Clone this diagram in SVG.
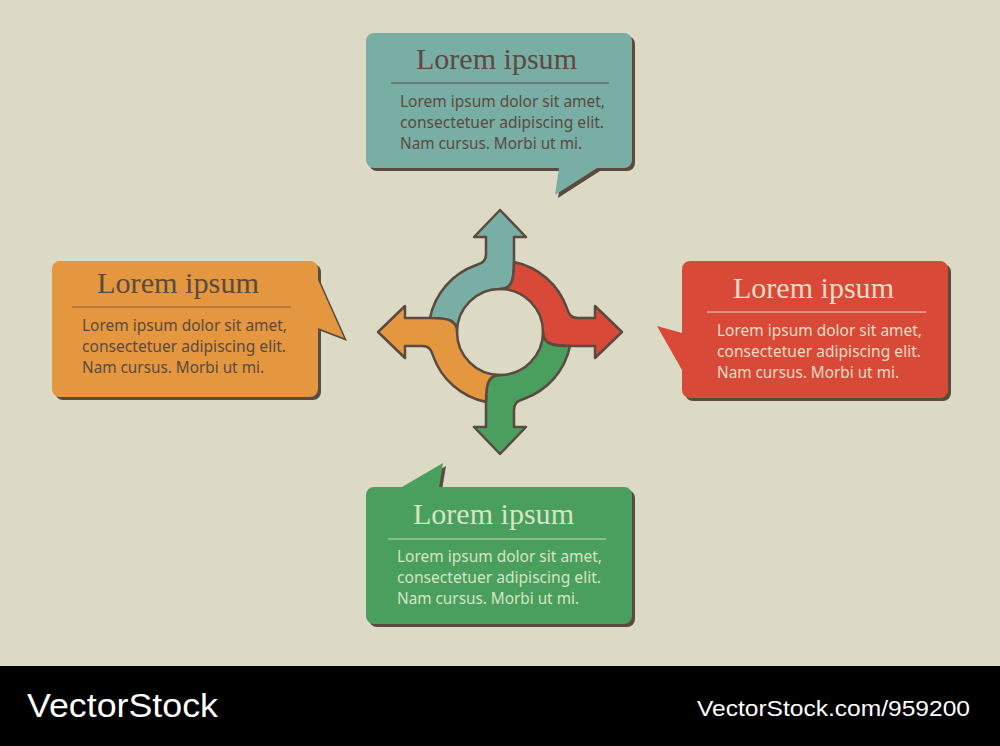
<svg xmlns="http://www.w3.org/2000/svg" xmlns:xlink="http://www.w3.org/1999/xlink" width="1000" height="746" viewBox="0 0 1000 746">
<style>
.shadow{fill:#5b4a40}
.title{font-family:"Liberation Serif","DejaVu Serif",serif;font-size:29px}
.body{font-family:"Noto Sans","Open Sans","Liberation Sans",sans-serif;font-size:16px}
.dark{fill:#5b4a40}
.light{fill:#ecdcc3}
.lightg{fill:#d6e5c2}
.piece{stroke:#5b4a40;stroke-width:2.5;stroke-linejoin:round}
.foot{font-family:"Liberation Sans",Arial,sans-serif;fill:#ffffff}
</style>
<defs>
<path id="arm" d="M0,-122 L26,-95 L14,-95 L14,-70 C14,-52 12,-43 0,-43 A43 43 0 0 0 -43,0 C-43,-12 -52,-14 -70,-14 A71 71 0 0 1 -24.3,-66.7 C-19,-68.6 -14,-70 -14,-78 L-14,-95 L-26,-95 Z"/>
</defs>
<rect x="0" y="0" width="1000" height="746" fill="#dcdac4"/>

<g id="callout-top">
<path class="shadow" transform="translate(3,3)" d="M374,33 H624 A8 8 0 0 1 632,41 V160 A8 8 0 0 1 624,168 H597 L555,195 L559,168 H374 A8 8 0 0 1 366,160 V41 A8 8 0 0 1 374,33 Z"/>
<path fill="#79aea5" d="M374,33 H624 A8 8 0 0 1 632,41 V160 A8 8 0 0 1 624,168 H597 L555,195 L559,168 H374 A8 8 0 0 1 366,160 V41 A8 8 0 0 1 374,33 Z"/>
<text class="title dark" x="416" y="69" textLength="161" lengthAdjust="spacingAndGlyphs">Lorem ipsum</text>
<line x1="391" y1="83" x2="609" y2="83" stroke="#5b4a40" stroke-width="1"/>
<text class="body dark" x="400" y="107" textLength="205" lengthAdjust="spacingAndGlyphs">Lorem ipsum dolor sit amet,</text>
<text class="body dark" x="400" y="128" textLength="204" lengthAdjust="spacingAndGlyphs">consectetuer adipiscing elit.</text>
<text class="body dark" x="400" y="149" textLength="182" lengthAdjust="spacingAndGlyphs">Nam cursus. Morbi ut mi.</text>
</g>

<g id="callout-right">
<path class="shadow" transform="translate(3,3)" d="M690,261 H940 A8 8 0 0 1 948,269 V390 A8 8 0 0 1 940,398 H690 A8 8 0 0 1 682,390 V370 L657,326 L682,333 V269 A8 8 0 0 1 690,261 Z"/>
<path fill="#d84a37" d="M690,261 H940 A8 8 0 0 1 948,269 V390 A8 8 0 0 1 940,398 H690 A8 8 0 0 1 682,390 V370 L657,326 L682,333 V269 A8 8 0 0 1 690,261 Z"/>
<text class="title light" x="733" y="298" textLength="161" lengthAdjust="spacingAndGlyphs">Lorem ipsum</text>
<line x1="707" y1="312" x2="926" y2="312" stroke="#ecdcc3" stroke-width="1"/>
<text class="body light" x="717" y="336" textLength="205" lengthAdjust="spacingAndGlyphs">Lorem ipsum dolor sit amet,</text>
<text class="body light" x="717" y="357" textLength="204" lengthAdjust="spacingAndGlyphs">consectetuer adipiscing elit.</text>
<text class="body light" x="717" y="378" textLength="182" lengthAdjust="spacingAndGlyphs">Nam cursus. Morbi ut mi.</text>
</g>

<g id="callout-left">
<path class="shadow" transform="translate(3,3)" d="M60,261 H310 A8 8 0 0 1 318,269 V280 L344,338 L318,328 V389 A8 8 0 0 1 310,397 H60 A8 8 0 0 1 52,389 V269 A8 8 0 0 1 60,261 Z"/>
<path fill="#e4973f" d="M60,261 H310 A8 8 0 0 1 318,269 V280 L344,338 L318,328 V389 A8 8 0 0 1 310,397 H60 A8 8 0 0 1 52,389 V269 A8 8 0 0 1 60,261 Z"/>
<text class="title dark" x="97" y="293" textLength="162" lengthAdjust="spacingAndGlyphs">Lorem ipsum</text>
<line x1="72" y1="307" x2="291" y2="307" stroke="#8a6040" stroke-width="1"/>
<text class="body dark" x="82" y="331" textLength="205" lengthAdjust="spacingAndGlyphs">Lorem ipsum dolor sit amet,</text>
<text class="body dark" x="82" y="352" textLength="204" lengthAdjust="spacingAndGlyphs">consectetuer adipiscing elit.</text>
<text class="body dark" x="82" y="373" textLength="182" lengthAdjust="spacingAndGlyphs">Nam cursus. Morbi ut mi.</text>
</g>

<g id="callout-bottom">
<path class="shadow" transform="translate(3,3)" d="M374,487 H402 L443,463 L439,487 H624 A8 8 0 0 1 632,495 V616 A8 8 0 0 1 624,624 H374 A8 8 0 0 1 366,616 V495 A8 8 0 0 1 374,487 Z"/>
<path fill="#4a9e5e" d="M374,487 H402 L443,463 L439,487 H624 A8 8 0 0 1 632,495 V616 A8 8 0 0 1 624,624 H374 A8 8 0 0 1 366,616 V495 A8 8 0 0 1 374,487 Z"/>
<text class="title lightg" x="413" y="524" textLength="161" lengthAdjust="spacingAndGlyphs">Lorem ipsum</text>
<line x1="388" y1="539" x2="606" y2="539" stroke="#c6dbb3" stroke-width="1"/>
<text class="body lightg" x="397" y="562" textLength="205" lengthAdjust="spacingAndGlyphs">Lorem ipsum dolor sit amet,</text>
<text class="body lightg" x="397" y="583" textLength="204" lengthAdjust="spacingAndGlyphs">consectetuer adipiscing elit.</text>
<text class="body lightg" x="397" y="604" textLength="182" lengthAdjust="spacingAndGlyphs">Nam cursus. Morbi ut mi.</text>
</g>

<g id="connectors" transform="translate(500,332)">
<use xlink:href="#arm" href="#arm" class="piece" fill="#79aea5"/>
<use xlink:href="#arm" href="#arm" class="piece" fill="#d84a37" transform="rotate(90)"/>
<use xlink:href="#arm" href="#arm" class="piece" fill="#4a9e5e" transform="rotate(180)"/>
<use xlink:href="#arm" href="#arm" class="piece" fill="#e4973f" transform="rotate(270)"/>
</g>

<g id="footer">
<rect x="0" y="666" width="1000" height="80" fill="#000000"/>
<text class="foot" x="27" y="717" font-size="34" textLength="191" lengthAdjust="spacingAndGlyphs">VectorStock</text>
<text class="foot" x="697" y="716" font-size="22" textLength="273" lengthAdjust="spacingAndGlyphs">VectorStock.com/959200</text>
</g>
</svg>
